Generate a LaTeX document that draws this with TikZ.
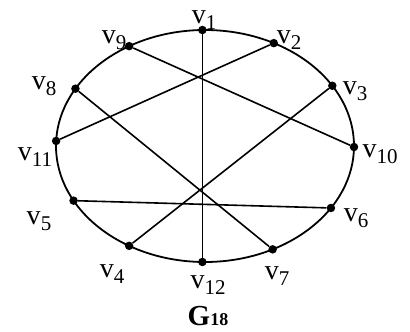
\documentclass[tikz,border=0pt]{standalone}
\usepackage{fontspec}
\setmainfont{Liberation Serif}
\usetikzlibrary{positioning}
\newcommand{\vsub}[1]{v\raisebox{-0.22em}{\fontsize{21}{21}\selectfont #1}}

\begin{document}
\begin{tikzpicture}[x=1pt,y=-1pt,
  vtx/.style={circle,fill=black,inner sep=0pt,minimum size=8.5pt},
  lab/.style={inner sep=0pt,font=\fontsize{28}{28}\selectfont},
  edge/.style={line width=1.6pt}]
  \useasboundingbox (0,0) rectangle (410,332);
  \begin{scope}[shift={(205,146)}]
  % Cycle
  \draw[line width=1.8pt] (0,0) ellipse [x radius=149, y radius=116];
  % Vertices
  \node[vtx] (v1) at (269:149 and 116) {};
  \node[vtx] (v2) at (297.5:149 and 116) {};
  \node[vtx] (v3) at (328.7:149 and 116) {};
  \node[vtx] (v10) at (0.5:149 and 116) {};
  \node[vtx] (v6) at (32.3:149 and 116) {};
  \node[vtx] (v7) at (63:149 and 116) {};
  \node[vtx] (v12) at (91:149 and 116) {};
  \node[vtx] (v4) at (120.6:149 and 116) {};
  \node[vtx] (v5) at (151.9:149 and 116) {};
  \node[vtx] (v11) at (182.5:149 and 116) {};
  \node[vtx] (v8) at (209.6:149 and 116) {};
  \node[vtx] (v9) at (239.4:149 and 116) {};
  \end{scope}
  % Chords
  \draw[edge] (v1) -- (v12);
  \draw[edge] (v9) -- (v10);
  \draw[edge] (v8) -- (v7);
  \draw[edge] (v11) -- (v2);
  \draw[edge] (v5) -- (v6);
  \draw[edge] (v4) -- (v3);
  % Labels
  \node[lab] (l1) at (204,20) {\vsub{1}};
  \node[lab] (l2) at (289,40) {\vsub{2}};
  \node[lab] (l3) at (355,91) {\vsub{3}};
  \node[lab] (l10) at (380,154) {\vsub{10}};
  \node[lab] (l6) at (356,218) {\vsub{6}};
  \node[lab] (l7) at (277,276) {\vsub{7}};
  \node[lab] (l12) at (208,285) {\vsub{12}};
  \node[lab] (l4) at (112,274) {\vsub{4}};
  \node[lab] (l5) at (39,221) {\vsub{5}};
  \node[lab] (l11) at (35,157) {\vsub{11}};
  \node[lab] (l8) at (44,86) {\vsub{8}};
  \node[lab] (l9) at (114,40) {\vsub{9}};
  \node[inner sep=0pt,font=\fontsize{29}{29}\selectfont\bfseries] (g) at (208,316) {G{\fontsize{18}{18}\selectfont 18}};
\end{tikzpicture}
\end{document}
